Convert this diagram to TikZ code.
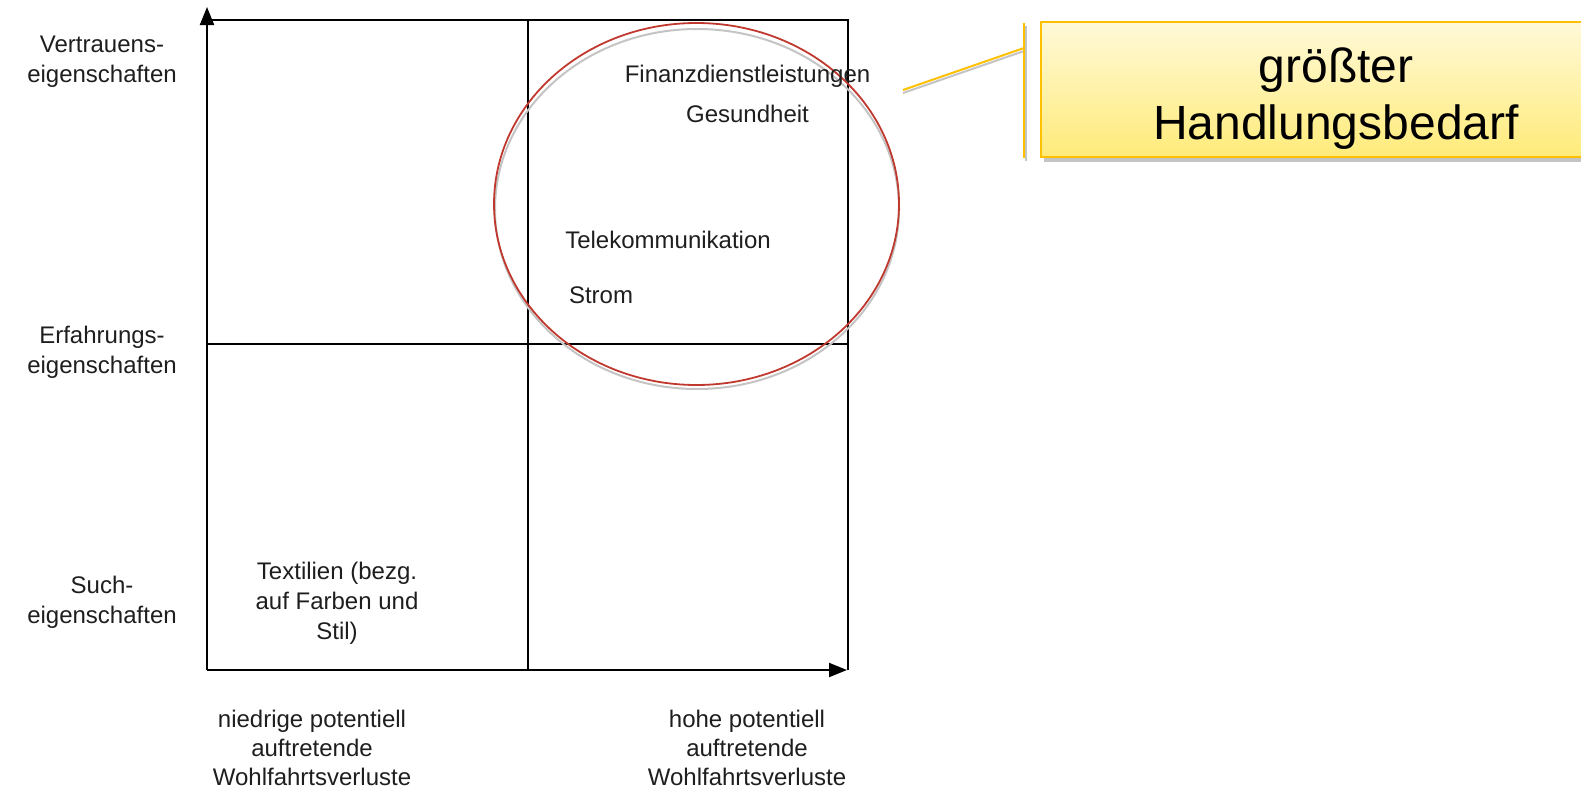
\documentclass[tikz,border=0pt]{standalone}
\usepackage{fontspec}
\setmainfont{Liberation Sans}
\usetikzlibrary{arrows.meta}
\definecolor{txtgray}{HTML}{1E1E1E}
\definecolor{callborder}{HTML}{FFC000}
\definecolor{calltop}{HTML}{FFF9D8}
\definecolor{callbot}{HTML}{FFEB7A}
\definecolor{ellred}{HTML}{C0392F}
\definecolor{shadowgray}{HTML}{C4C4C4}
\tikzset{
  axisline/.style={line width=2pt, draw=black},
  axisarrow/.style={line width=2pt, draw=black, -{Triangle[length=18pt,width=14pt]}},
  lbl/.style={text=txtgray, font=\fontsize{24}{30}\selectfont, align=center, inner sep=0pt},
  botlbl/.style={text=txtgray, font=\fontsize{24}{29}\selectfont, align=center, inner sep=0pt},
  itemlbl/.style={text=txtgray, font=\fontsize{24}{30}\selectfont, inner sep=0pt, anchor=base},
  calltext/.style={text=black, font=\fontsize{48}{53}\selectfont, align=center, inner sep=0pt},
  callline/.style={line width=2pt, draw=callborder},
  callshadow/.style={line width=2pt, draw=shadowgray},
}
\begin{document}
\begin{tikzpicture}[x=1pt,y=-1pt]
\useasboundingbox (0,0) rectangle (1581,790);
\begin{scope}
\clip (0,0) rectangle (1581,790);
% grid coordinates
\coordinate (o) at (207,670);
\coordinate (ytip) at (207,7);
\coordinate (xtip) at (847,670);
\coordinate (tl) at (207,20);
\coordinate (tr) at (848,20);
\coordinate (br) at (848,670);
\coordinate (mt) at (528,20);
\coordinate (mb) at (528,670);
\coordinate (ml) at (207,344);
\coordinate (mr) at (848,344);
% frame
\draw[axisline] (tl) -- (tr) -- (br);
\draw[axisline] (mt) -- (mb);
\draw[axisline] (ml) -- (mr);
\draw[axisarrow] (o) -- (ytip);
\draw[axisarrow] (o) -- (xtip);
% ellipse with shadow
\draw[shadowgray, line width=2pt] (697,209) ellipse [x radius=202, y radius=180];
\draw[ellred, line width=1.8pt] (696.5,204) ellipse [x radius=202.5, y radius=181];
% axis labels
\node[lbl] (vert) at (102,61.5) {Vertrauens-\\eigenschaften};
\node[lbl] (erf) at (102,352) {Erfahrungs-\\eigenschaften};
\node[lbl] (such) at (102,602) {Such-\\eigenschaften};
\node[botlbl] (nied) at (312,748) {niedrige potentiell\\auftretende\\Wohlfahrtsverluste};
\node[botlbl] (hohe) at (747,748) {hohe potentiell\\auftretende\\Wohlfahrtsverluste};
% items
\node[lbl] (text) at (337,603) {Textilien (bezg.\\auf Farben und\\Stil)};
\node[itemlbl] (fin) at (747.5,82) {Finanzdienstleistungen};
\node[itemlbl] (ges) at (747.5,122) {Gesundheit};
\node[itemlbl] (tel) at (668,248) {Telekommunikation};
\node[itemlbl] (str) at (601,303) {Strom};
% callout
\coordinate (lead0) at (903,90);
\coordinate (lead1) at (1024,48);
\coordinate (vtop) at (1024,23);
\coordinate (vbot) at (1024,158);
\draw[callshadow] ([yshift=-3pt]lead0) -- ([yshift=-3pt]lead1);
\draw[callshadow] ([xshift=2pt,yshift=-3pt]vtop) -- ([xshift=2pt,yshift=-3pt]vbot);
\draw[callline] (lead0) -- (lead1);
\draw[callline] (vtop) -- (vbot);
\fill[shadowgray] (1044,26) rectangle (1590,162);
\draw[callline, top color=calltop, bottom color=callbot] (1041,22) rectangle (1590,157);
\node[calltext] (gr) at (1336,70) {größter};
\node[calltext] (hb) at (1336,127) {Handlungsbedarf};
\end{scope}
\end{tikzpicture}
\end{document}
